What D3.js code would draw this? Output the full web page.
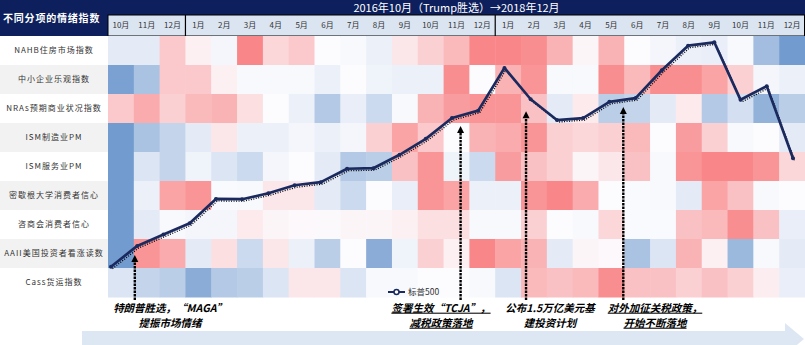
<!DOCTYPE html>
<html><head><meta charset="utf-8">
<script src="https://cdn.jsdelivr.net/npm/d3@7"></script>
<style>
body{margin:0;background:#fff}
svg{display:block}
text{font-family:"Noto Sans CJK SC","Noto Sans",sans-serif}
</style>
</head><body>
<svg id="c" width="805" height="345"></svg>
<script>
// ---------- data ----------
const months = ["2016-10","2016-11","2016-12",
  "2017-01","2017-02","2017-03","2017-04","2017-05","2017-06","2017-07","2017-08","2017-09","2017-10","2017-11","2017-12",
  "2018-01","2018-02","2018-03","2018-04","2018-05","2018-06","2018-07","2018-08","2018-09","2018-10","2018-11","2018-12"];
const monthLabels = ["10月","11月","12月","1月","2月","3月","4月","5月","6月","7月","8月","9月","10月","11月","12月",
  "1月","2月","3月","4月","5月","6月","7月","8月","9月","10月","11月","12月"];
const indicators = ["NAHB住房市场指数","中小企业乐观指数","NRAs预期商业状况指数","ISM制造业PM","ISM服务业PM",
  "密歇根大学消费者信心","咨商会消费者信心","AAII美国投资者看涨读数","Cass货运指数"];
const sp500 = [2126,2199,2239,2279,2364,2363,2384,2412,2423,2470,2472,2519,2575,2648,2674,
  2824,2714,2641,2648,2705,2718,2816,2902,2914,2712,2760,2507];

// sentiment scores (-1 = blue/low, 0 = neutral, 1 = red/high)
const nahb    = [-0.15,-0.15,0.35,0.08,-0.05,0.8,0.25,0.35,0,-0.03,-0.1,0.15,0.3,0.45,0.8,0.8,0.75,0.5,0.05,0.5,0,-0.05,-0.1,-0.12,-0.03,-0.55,-0.85];
const nfib    = [-0.8,-0.5,0.35,0.35,0.08,-0.03,-0.03,-0.03,-0.1,0,-0.08,-0.1,-0.1,0.75,0,0.5,0.7,-0.03,-0.03,0.75,0.45,0.75,0.75,0.6,0.3,-0.05,-0.1];
const nras    = [0.35,0.55,0.3,0.45,0.5,0.2,0,-0.1,-0.45,-0.12,-0.3,-0.03,0.5,0.65,0.7,0.7,0.4,-0.15,0.12,-0.4,-0.35,-0.15,0.12,-0.45,-0.25,-0.65,-0.4];
const ismMfg  = [-0.85,-0.5,-0.35,-0.15,0.15,-0.1,-0.1,-0.05,-0.1,-0.05,0.3,0.6,0.35,0,0.5,0.55,0.7,0.3,0.25,0.3,0.45,0,0.65,0.3,-0.03,0,-0.15];
const ismSvc  = [-0.85,-0.2,-0.35,-0.08,-0.2,-0.3,-0.05,0,-0.15,-0.45,-0.4,0.4,0.7,-0.08,-0.3,0.65,0.4,0.3,0.05,0.15,0.4,-0.03,0.7,0.8,0.8,0.7,0.25];
const umich   = [-0.85,-0.1,0.6,0.7,-0.02,-0.03,0.15,0.15,-0.15,-0.3,0,-0.12,0.7,0.6,-0.1,-0.1,0.7,0.8,0.55,0,-0.02,-0.03,-0.15,0.6,0.4,-0.03,0];
const confBd  = [-0.85,-0.15,-0.03,-0.05,-0.05,0.12,0.05,0.03,0.02,0.05,0.05,0.08,0.2,0.2,-0.03,-0.03,0.3,0,-0.03,0.25,-0.02,-0.02,0.4,0.45,0.75,0.4,-0.12];
const aaii    = [-0.85,0.7,0.55,-0.15,0.2,-0.3,0.15,-0.1,-0.4,0,-0.7,-0.08,0.3,0.08,0.8,0.6,0.5,-0.15,0.05,0.03,-0.5,-0.2,0.5,0.08,-0.6,-0.03,-0.15];
const cass    = [-0.2,-0.35,-0.4,-0.7,-0.45,-0.4,-0.2,0.15,0.15,-0.2,-0.03,-0.03,0,0,-0.03,-0.2,0.45,0.4,0.45,0.75,0.4,0.4,0.3,0.4,0.3,0.1,-0.12];
const scoreRows = [nahb,nfib,nras,ismMfg,ismSvc,umich,confBd,aaii,cass];

const titleText = "2016年10月（Trump胜选）→2018年12月";
const panelTitle = "不同分项的情绪指数";
const legendLabel = "标普500";
const events = [
  {month:"2016-11", lines:["特朗普胜选，“MAGA”","提振市场情绪"], underline:false},
  {month:"2017-11", lines:["签署生效“TCJA”，","减税政策落地"], underline:true},
  {month:"2018-02", lines:["公布1.5万亿美元基","建投资计划"], underline:false},
  {month:"2018-06", lines:["对外加征关税政策，","开始不断落地"], underline:true}
];

// ---------- layout ----------
(function(){
const navy = "#0d1f5c";
const svg = d3.select("#c");
const gLeft = 108, gRight = 805, gTop = 36, gBottom = 297;
const x = d3.scaleBand().domain(months).range([gLeft, gRight]);
const y = d3.scaleBand().domain(indicators).range([gTop, gBottom]);
const color = d3.scaleLinear().domain([-1,0,1]).range(["#5a8ac6","#fcfcff","#f8696b"]);
const xLine = d3.scalePoint().domain(months).range([111, 793]);
const yLine = d3.scaleLinear().domain([2000, 3000]).range([302.6, 17.8]);

// header band
svg.append("rect").attr("x",0).attr("y",0).attr("width",805).attr("height",15).attr("fill",navy);
svg.append("rect").attr("x",0).attr("y",0).attr("width",gLeft).attr("height",gTop).attr("fill",navy);
svg.append("text").attr("x",(gLeft+gRight)/2).attr("y",8).attr("dy","0.35em")
  .attr("text-anchor","middle").attr("fill","#fff").attr("font-size",11).text(titleText);
svg.append("text").attr("x",3).attr("y",18).attr("dy","0.35em")
  .attr("fill","#fff").attr("font-size",10).attr("font-weight","bold").attr("letter-spacing",0.8).text(panelTitle);

// month header
svg.append("rect").attr("x",gLeft).attr("y",15).attr("width",gRight-gLeft-0.5).attr("height",21)
  .attr("fill","#dbe5f1").attr("stroke","#000").attr("stroke-width",1);
svg.append("g").selectAll("text").data(months).join("text")
  .attr("x",d=>x(d)+x.bandwidth()/2).attr("y",25.5).attr("dy","0.35em")
  .attr("text-anchor","middle").attr("font-size",8).attr("fill","#333")
  .text((d,i)=>monthLabels[i]);
[months[3], months[15]].forEach(m=>{
  svg.append("line").attr("x1",x(m)).attr("x2",x(m)).attr("y1",15).attr("y2",36)
    .attr("stroke","#000").attr("stroke-width",1.2);
});

// row labels
const lab = svg.append("g");
lab.selectAll("rect").data(indicators).join("rect")
  .attr("x",0).attr("y",d=>y(d)).attr("width",gLeft).attr("height",y.bandwidth())
  .attr("fill",(d,i)=>i%2? "#f2f2f2":"#fff");
lab.selectAll("text").data(indicators).join("text")
  .attr("x",54).attr("y",d=>y(d)+y.bandwidth()/2).attr("dy","0.35em")
  .attr("text-anchor","middle").attr("font-size",8).attr("letter-spacing",1).attr("fill","#333")
  .text(d=>d);

// heatmap cells
const cells = [];
scoreRows.forEach((row,r)=>row.forEach((v,c)=>cells.push({ind:indicators[r], m:months[c], v})));
svg.append("g").selectAll("rect").data(cells).join("rect")
  .attr("x",d=>x(d.m)).attr("y",d=>y(d.ind))
  .attr("width",x.bandwidth()+0.5).attr("height",y.bandwidth()+0.5)
  .attr("fill",d=>color(d.v));

// event arrows
const arrowLayout = [{dx:1, gap:9},{dx:17, gap:8},{dx:5, gap:12},{dx:-1, gap:9}];
const textCx = [170, 441, 550, 655];
const ag = svg.append("g");
events.forEach((e,i)=>{
  const ax = x(e.month) + arrowLayout[i].dx;
  const tip = yLine(sp500[months.indexOf(e.month)]) + arrowLayout[i].gap;
  ag.append("line").attr("x1",ax).attr("x2",ax).attr("y1",300).attr("y2",tip+6)
    .attr("stroke","#000").attr("stroke-width",2.4).attr("stroke-dasharray","2.5,1");
  ag.append("path").attr("d",`M${ax},${tip}L${ax-3.5},${tip+7}L${ax+3.5},${tip+7}Z`).attr("fill","#000");
  e.lines.forEach((t,k)=>{
    ag.append("text").attr("x",textCx[i]).attr("y",308+k*15).attr("dy","0.35em")
      .attr("text-anchor","middle").attr("font-size",10.5).attr("font-weight","bold")
      .attr("font-style","italic").attr("fill","#000")
      .attr("text-decoration", e.underline? "underline":"none").text(t);
  });
});

// S&P 500 line
const line = d3.line().x((d,i)=>xLine(months[i])).y(d=>yLine(d));
svg.append("path").attr("d",line(sp500)).attr("fill","none")
  .attr("transform","translate(1.5,2)").attr("stroke","#000").attr("stroke-width",1.3)
  .attr("stroke-dasharray","1,1.5");
svg.append("path").attr("d",line(sp500)).attr("fill","none")
  .attr("stroke","#1b2a5e").attr("stroke-width",2.7).attr("stroke-linejoin","round");
svg.append("g").selectAll("circle").data(sp500).join("circle")
  .attr("cx",(d,i)=>xLine(months[i])).attr("cy",d=>yLine(d)).attr("r",2)
  .attr("fill","#1b2a5e");

// legend
const lg = svg.append("g");
lg.append("line").attr("x1",388).attr("x2",405).attr("y1",292).attr("y2",292)
  .attr("stroke","#1b2a5e").attr("stroke-width",2);
lg.append("circle").attr("cx",396.5).attr("cy",292).attr("r",2.5).attr("fill","#fff")
  .attr("stroke","#1b2a5e").attr("stroke-width",1.5);
lg.append("text").attr("x",408).attr("y",292).attr("dy","0.35em").attr("font-size",8.5)
  .attr("fill","#333").text(legendLabel);

// bottom timeline arrow
svg.append("path").attr("d","M82,331L785,331L785,323L804,339L785,355L785,347L82,347Z")
  .attr("fill","#dde7f3");
})();
</script>
</body></html>
